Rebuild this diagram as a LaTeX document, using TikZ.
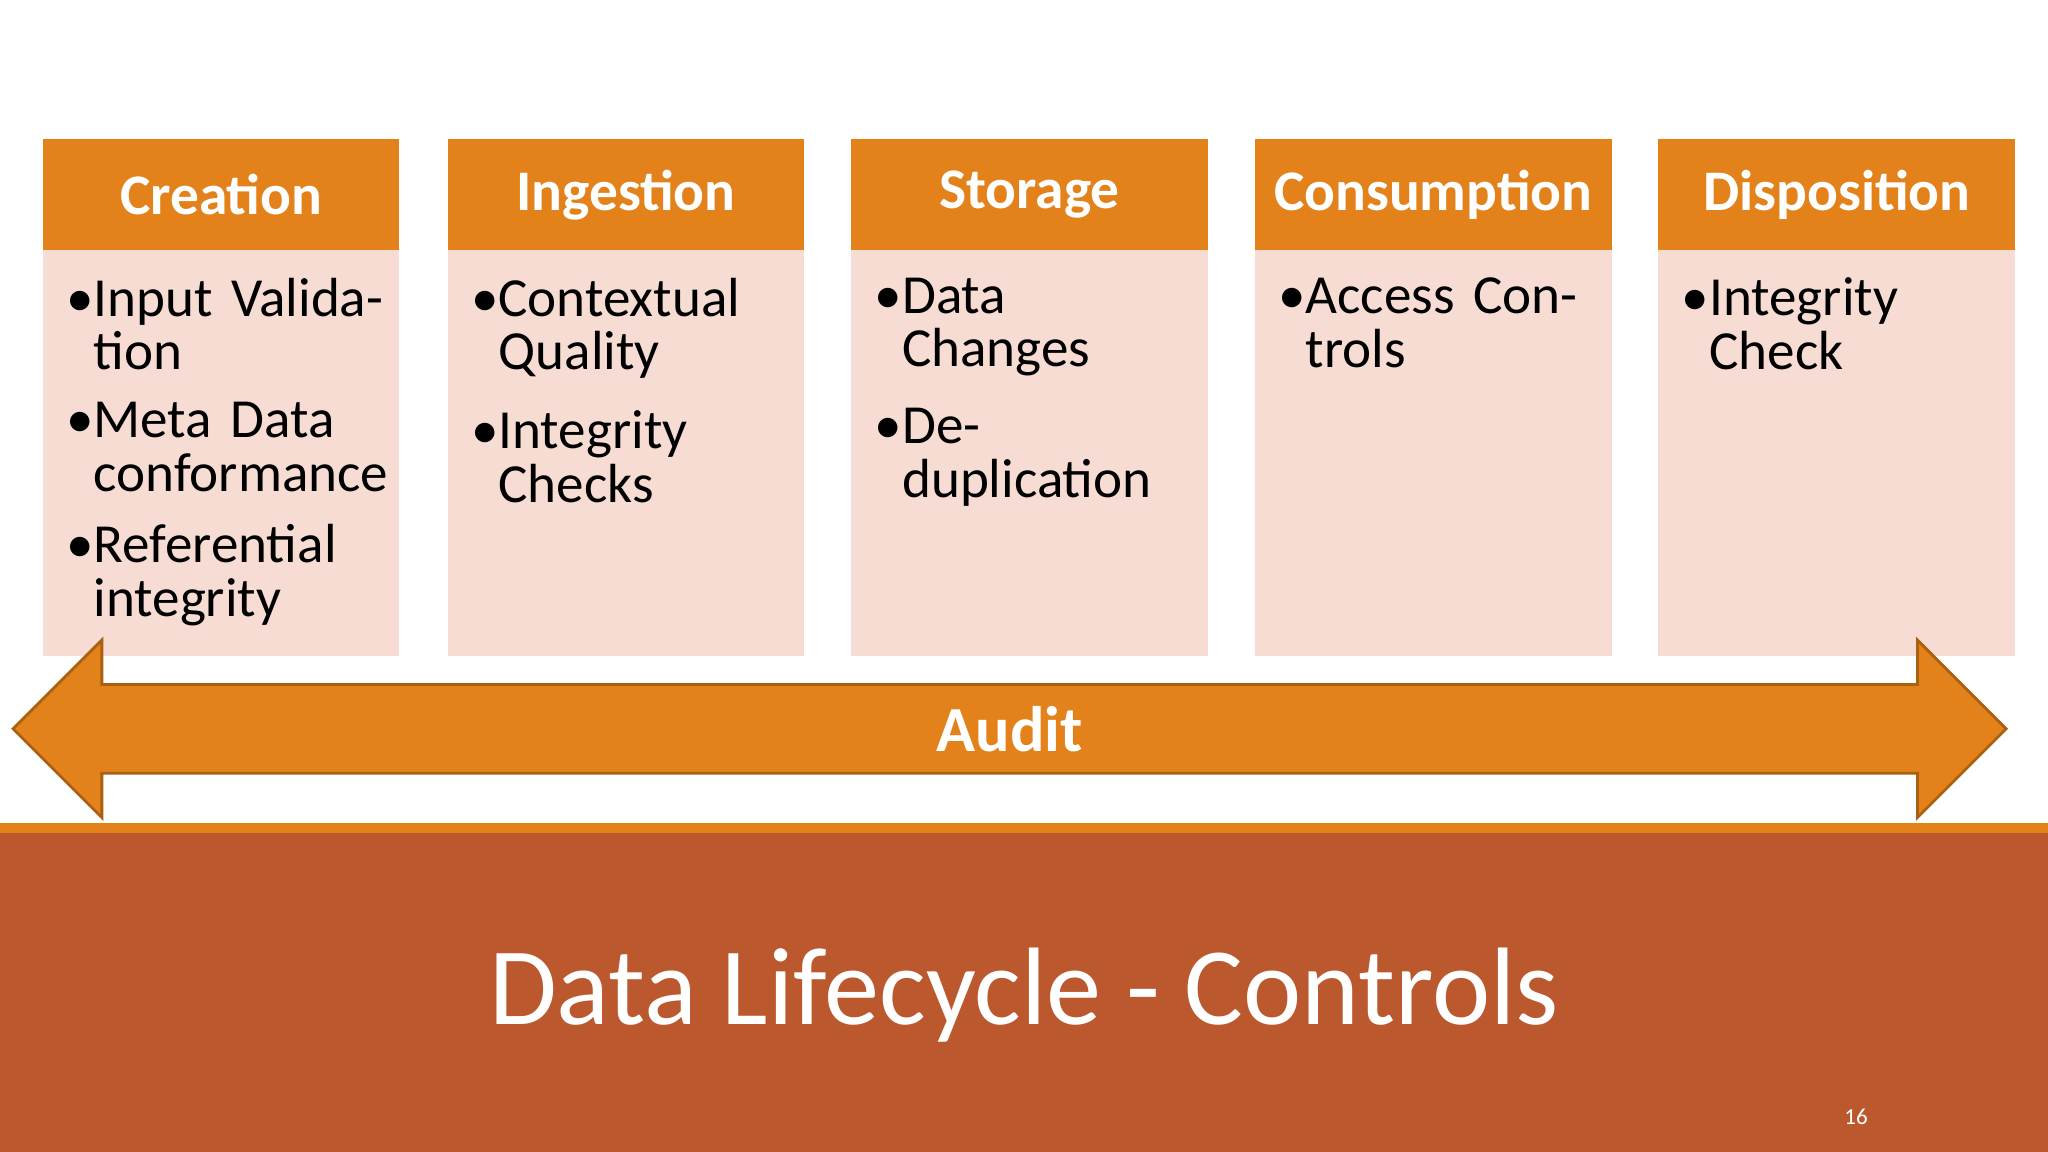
\documentclass[tikz,border=0pt]{standalone}
\usepackage{fontspec}
\setmainfont{Carlito}
\definecolor{orng}{HTML}{E3821A}
\definecolor{pale}{HTML}{F6DCD2}
\definecolor{band}{HTML}{BB582E}
\definecolor{arrowline}{HTML}{A9600F}
\tikzset{
  head/.style={fill=orng,minimum width=2.73cm,minimum height=0.85cm,anchor=north west,inner sep=0pt,text=white,font=\fontsize{12.5pt}{14pt}\selectfont\bfseries},
  body/.style={fill=pale,minimum width=2.73cm,minimum height=3.10cm,anchor=north west,inner sep=0pt},
  txt/.style={anchor=north west,inner sep=0pt,text width=2.6cm,align=left,font=\fontsize{12pt}{11.7pt}\selectfont}
}
\newcommand{\blt}[1]{\makebox[0.21cm][l]{\textbullet}\parbox[t]{2.35cm}{#1}\par\vspace{6pt}}
\begin{document}
\begin{tikzpicture}[x=0.01cm,y=-0.01cm]
\useasboundingbox (0,0) rectangle (1568,882);
\fill[white] (0,0) rectangle (1568,882);
\foreach \n/\x/\t in {c/32/Creation,i/342/Ingestion,s/651/Storage,u/960/Consumption,d/1269/Disposition}{
  \node[body] (b\n) at (\x,191) {};
  \node[head] (h\n) at (\x,106) {\t};
}
\node[txt] (tc) at (50,212) {\blt{Input Validation}\blt{Meta Data conformance}\blt{Referential integrity}};
\node[txt] (ti) at (360,212) {\blt{Contextual Quality}\blt{Integrity Checks}};
\node[txt] (ts) at (669,212) {\blt{Data Changes}\blt{De-duplication}};
\node[txt] (tu) at (978,212) {\blt{Access Controls}};
\node[txt] (td) at (1287,212) {\blt{Integrity Check}};
\fill[orng] (10,558) -- (78,490) -- (78,524) -- (1468,524) -- (1468,490) -- (1536,558) -- (1468,626) -- (1468,592) -- (78,592) -- (78,626) -- cycle;
\draw[arrowline,line width=0.6pt] (10,558) -- (78,490) -- (78,524) -- (1468,524) -- (1468,490) -- (1536,558) -- (1468,626) -- (1468,592) -- (78,592) -- (78,626) -- cycle;
\node[text=white,font=\fontsize{14pt}{16pt}\selectfont\bfseries] (audit) at (773,558) {Audit};
\fill[band] (0,632) rectangle (1568,882);
\fill[orng] (0,630) rectangle (1568,638);
\node[text=white,font=\fontsize{24pt}{28pt}\selectfont] (title) at (784,762) {Data Lifecycle - Controls};
\node[text=white,font=\fontsize{5pt}{6pt}\selectfont] (pg) at (1421,855) {16};
\end{tikzpicture}
\end{document}
